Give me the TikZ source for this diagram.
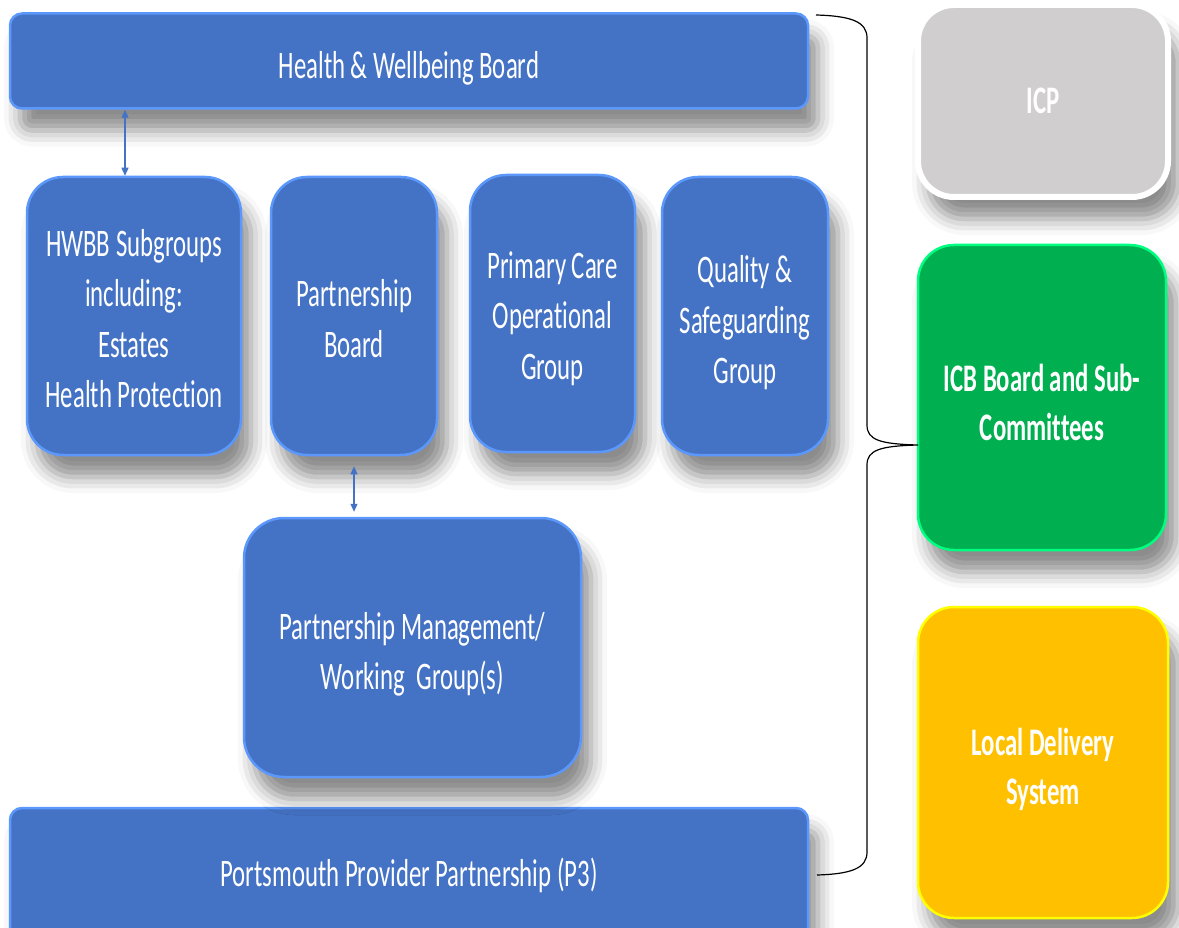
\documentclass[tikz,border=0pt]{standalone}
\usepackage{fontspec}
\setmainfont{Carlito}[FakeStretch=0.635, Ligatures=NoCommon]
\usetikzlibrary{arrows.meta,shadows.blur}
\definecolor{boardblue}{RGB}{68,114,196}
\definecolor{rimblue}{RGB}{92,152,252}
\definecolor{icpgrey}{RGB}{208,206,206}
\definecolor{icbgreen}{RGB}{0,176,80}
\definecolor{rimgreen}{RGB}{0,255,128}
\definecolor{ldsgold}{RGB}{255,192,0}
\definecolor{rimyellow}{RGB}{255,255,0}

\tikzset{
  box/.style={rounded corners=36pt, line width=2.5pt, text=white, align=center,
    inner sep=0pt, font=\fontsize{39}{50.5}\selectfont,
    blur shadow={shadow xshift=10pt, shadow yshift=-22pt,
                 shadow blur radius=16pt, shadow opacity=45}},
  bluebox/.style={box, fill=boardblue, draw=rimblue},
  bar/.style={bluebox, rounded corners=12pt, minimum width=798pt},
  sidebox/.style={box, font=\bfseries\fontsize{39}{49}\selectfont,
    minimum width=250pt},
  link/.style={{Triangle[length=8pt,width=7pt]}-{Triangle[length=8pt,width=7pt]},
    boardblue, line width=1.1pt},
}

\begin{document}
\begin{tikzpicture}[x=1pt, y=-1pt]
  \useasboundingbox (0,0) rectangle (1179,928);

  % top and bottom bars
  \node[bar, text height=41pt, minimum height=95pt] (hwb) at (409,61)
    {Health \& Wellbeing Board};
  \node[bar, text height=29pt, minimum height=134pt] (p3) at (409,875)
    {Portsmouth Provider Partnership (P3)};

  % middle row of groups (text height = height above the last baseline)
  \node[bluebox, text height=184pt, minimum width=214pt, minimum height=278pt]
    (hwbb) at (134,316) {HWBB Subgroups\\including:\\Estates\\Health Protection};
  \node[bluebox, text height=83pt, minimum width=166pt, minimum height=278pt]
    (pb) at (354,316) {Partnership\\Board};
  \node[bluebox, text height=138pt, minimum width=165pt, minimum height=277pt]
    (pcog) at (552.5,313.5) {Primary Care\\Operational\\Group};
  \node[bluebox, text height=142pt, minimum width=166pt, minimum height=278pt]
    (qsg) at (745,316) {Quality \&\\Safeguarding\\Group};
  \node[bluebox, rounded corners=40pt, text height=91pt, minimum width=337pt,
    minimum height=259pt] (pmwg) at (412.5,647.5)
    {Partnership Management/\\Working~~Group(s)};

  % side boxes
  \node[sidebox, fill=icpgrey, draw=white, line width=6pt, minimum height=192pt]
    (icp) at (1043,101) {ICP};
  \node[sidebox, fill=icbgreen, draw=rimgreen, text height=86pt, minimum width=248pt,
    minimum height=305pt] (icb) at (1042,397.5) {ICB Board and Sub-\\Committees};
  \node[sidebox, fill=ldsgold, draw=rimyellow, text height=90pt, minimum height=311pt]
    (lds) at (1043,762.5) {Local Delivery\\System};

  % two-way links
  \coordinate (upx) at (125,0);
  \draw[link] (hwb.south -| upx) -- (hwbb.north -| upx);
  \draw[link, shorten <=10pt, shorten >=5pt] (pb.south) -- (pmwg.north -| pb.south);

  % brace round the left side
  \coordinate (bracetop) at (816,15);
  \coordinate (bracetip) at (918,445);
  \coordinate (bracebot) at (817,875);
  \draw[line width=1.2pt] (bracetop) .. controls (852,16) and (867,22) .. (867,38)
    -- (867,425) .. controls (867,440) and (880,444) .. (bracetip)
    .. controls (880,446) and (867,450) .. (867,465)
    -- (867,852) .. controls (867,868) and (852,874) .. (bracebot);
\end{tikzpicture}
\end{document}
